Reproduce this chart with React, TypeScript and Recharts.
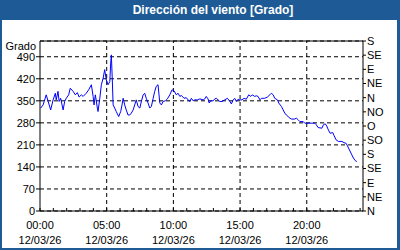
import React from 'react';
import { LineChart, Line, XAxis, YAxis, CartesianGrid, ReferenceLine } from 'recharts';

// minutes after 00:00 on 12/03/26
const TIMES = [
  3, 14, 28, 48, 59, 69, 73, 81, 86, 93,
  104, 111, 118, 129, 136, 149, 159, 168, 176, 186,
  194, 208, 219, 231, 239, 243, 249, 258, 261, 269,
  276, 284, 291, 298, 306, 314, 318, 321, 325, 329,
  336, 343, 354, 363, 369, 374, 381, 388, 396, 404,
  411, 419, 426, 433, 441, 449, 456, 464, 471, 478,
  486, 494, 501, 509, 516, 523, 531, 539, 546, 554,
  564, 573, 584, 594, 603, 613, 621, 629, 636, 648,
  658, 666, 674, 681, 689, 696, 708, 719, 734, 741,
  748, 756, 761, 768, 779, 786, 793, 801, 809, 819,
  831, 843, 854, 861, 869, 876, 883, 891, 899, 909,
  918, 928, 939, 948, 955, 966, 973, 981, 989, 996,
  1011, 1023, 1034, 1041, 1049, 1056, 1068, 1074, 1086, 1094,
  1101, 1108, 1116, 1124, 1131, 1146, 1153, 1161, 1169, 1184,
  1191, 1214, 1236, 1243, 1251, 1268, 1275, 1283, 1290, 1297,
  1305, 1317, 1323, 1332, 1342, 1358, 1368, 1377, 1383, 1392,
  1403, 1410, 1418, 1425,
];

// wind direction in degrees
const DIRECTION = [
  327, 337, 369, 321, 353, 374, 353, 380, 348, 358,
  321, 348, 358, 369, 390, 380, 369, 376, 362, 369,
  364, 374, 385, 401, 364, 337, 369, 327, 316, 358,
  401, 422, 449, 417, 401, 411, 470, 496, 422, 337,
  327, 316, 300, 316, 337, 358, 337, 321, 305, 305,
  311, 321, 337, 353, 332, 327, 348, 369, 374, 358,
  343, 327, 332, 358, 380, 396, 401, 343, 337, 348,
  350, 356, 369, 385, 382, 369, 374, 364, 367, 358,
  360, 353, 348, 358, 350, 353, 353, 356, 353, 356,
  364, 356, 343, 350, 350, 356, 358, 353, 348, 348,
  353, 358, 348, 340, 353, 358, 348, 355, 353, 353,
  358, 355, 369, 364, 369, 364, 366, 364, 353, 358,
  358, 362, 369, 374, 369, 358, 353, 343, 332, 321,
  311, 305, 300, 295, 292, 292, 295, 290, 284, 284,
  279, 279, 279, 274, 265, 263, 274, 277, 270, 258,
  247, 249, 239, 226, 221, 221, 217, 215, 207, 194,
  178, 168, 160, 157,
];

const LEFT_TICKS = [0, 70, 140, 210, 280, 350, 420, 490];
const RIGHT_TICKS = [0, 45, 90, 135, 180, 225, 270, 315, 360, 405, 450, 495, 540];
const RIGHT_LABELS = ['N', 'NE', 'E', 'SE', 'S', 'SO', 'O', 'NO', 'N', 'NE', 'E', 'SE', 'S'];
const HOUR_TICKS = [0, 60, 120, 180, 240, 300, 360, 420, 480, 540, 600, 660, 720, 780, 840, 900, 960, 1020, 1080, 1140, 1200, 1260, 1320, 1380, 1440];
const MAJOR_TICKS = [0, 300, 600, 900, 1200];
const MAJOR_LABELS = ['00:00', '05:00', '10:00', '15:00', '20:00'];
const DATE_LABEL = '12/03/26';
const X_MAX = 1453;
const Y_MAX = 540;

const TITLE = 'Dirección del viento [Grado]';
const UNIT = 'Grado';

const FONT = '"Liberation Sans", Arial, sans-serif';
const FRAME = '#1e5b96';

const data = TIMES.map((t, i) => ({ t, v: DIRECTION[i], d: DIRECTION[i] }));

const XTick = (props: any) => {
  const { x, y, payload } = props;
  const idx = MAJOR_TICKS.indexOf(payload.value);
  return (
    <g>
      <line x1={x} x2={x} y1={y} y2={y - 3} stroke="#000" />
      {idx >= 0 && (
        <text textAnchor="middle" fontSize={11} fontFamily={FONT} fill="#000">
          <tspan x={x} y={y + 18}>{MAJOR_LABELS[idx]}</tspan>
          <tspan x={x} y={y + 33}>{DATE_LABEL}</tspan>
        </text>
      )}
    </g>
  );
};

const RightTick = (props: any) => {
  const { x, y, payload } = props;
  const idx = RIGHT_TICKS.indexOf(Number(payload.value));
  return (
    <text x={x} y={y} dy="0.36em" textAnchor="start" fontSize={11} fontFamily={FONT} fill="#000">
      {idx >= 0 ? RIGHT_LABELS[idx] : ''}
    </text>
  );
};

export default function App() {
  return (
    <div style={{ position: 'fixed', left: 0, top: 0, width: 400, height: 250, background: FRAME, overflow: 'hidden' }}>
      <div style={{ position: 'absolute', left: 2, top: 20, width: 395, height: 228, background: '#fff' }} />
      <div
        style={{
          position: 'absolute', left: 213, top: 0, height: 20, lineHeight: '20px',
          transform: 'translateX(-50%)', whiteSpace: 'nowrap', color: '#fff',
          fontFamily: FONT, fontWeight: 'bold', fontSize: 12,
        }}
      >
        {TITLE}
      </div>
      <div
        style={{
          position: 'absolute', left: 0, top: 40, width: 36, textAlign: 'right',
          lineHeight: '13px', fontFamily: FONT, fontSize: 11, color: '#000',
        }}
      >
        {UNIT}
      </div>
      <div style={{ position: 'absolute', left: 0, top: 0 }}>
        <LineChart width={400} height={250} data={data} margin={{ top: 41, right: 0, bottom: 0, left: 0 }}>
          <CartesianGrid vertical={false} stroke="#000" strokeDasharray="4 3" />
          <XAxis
            dataKey="t"
            type="number"
            domain={[0, X_MAX]}
            ticks={HOUR_TICKS}
            interval={0}
            height={39}
            tickSize={0}
            tickMargin={0}
            tickLine={false}
            axisLine={{ stroke: '#000' }}
            tick={<XTick />}
          />
          <YAxis
            yAxisId={0}
            type="number"
            domain={[0, Y_MAX]}
            ticks={LEFT_TICKS}
            interval={0}
            width={40}
            tickSize={4}
            tickMargin={1}
            axisLine={{ stroke: '#000' }}
            tickLine={{ stroke: '#000' }}
            tick={{ fontSize: 11, fontFamily: FONT, fill: '#000' }}
          />
          <YAxis
            yAxisId="dir"
            orientation="right"
            type="number"
            domain={[0, Y_MAX]}
            allowDataOverflow
            ticks={RIGHT_TICKS}
            interval={0}
            width={37}
            tickSize={3}
            tickMargin={1}
            axisLine={{ stroke: '#000' }}
            tickLine={{ stroke: '#000' }}
            tick={<RightTick />}
          />
          {MAJOR_TICKS.slice(1).map((m) => (
            <ReferenceLine key={m} x={m} stroke="#000" strokeDasharray="4 3" />
          ))}
          <ReferenceLine y={Y_MAX} stroke="#000" />
          <Line
            yAxisId="dir"
            type="linear"
            dataKey="d"
            stroke="none"
            dot={false}
            activeDot={false}
            isAnimationActive={false}
          />
          <Line
            type="linear"
            dataKey="v"
            stroke="#0000ff"
            strokeWidth={1}
            dot={false}
            isAnimationActive={false}
          />
        </LineChart>
      </div>
    </div>
  );
}
